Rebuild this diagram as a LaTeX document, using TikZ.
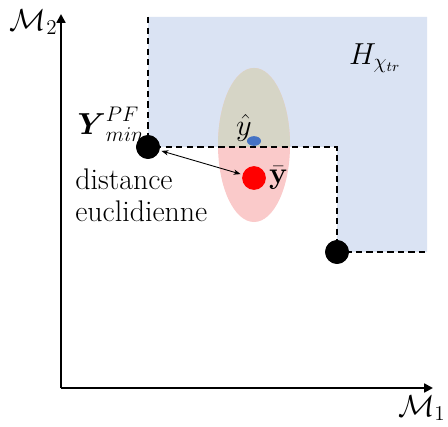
\documentclass[tikz,border=0pt]{standalone}
\usepackage{amsmath,amssymb}
\usepackage{xcolor}
\usetikzlibrary{shapes, arrows.meta, positioning, calc}
\definecolor{regionBlue}{RGB}{218, 227, 243}
\definecolor{ellPink}{RGB}{250, 202, 202}
\definecolor{ellOlive}{RGB}{214, 213, 198}
\definecolor{dotBlue}{RGB}{68, 114, 196}
\definecolor{dotRed}{RGB}{255, 0, 0}

\begin{document}
\begin{tikzpicture}[x=0.02cm, y=0.02cm,
				axis_line/.style  = {line width=1.4pt, -{Triangle[length=5pt, width=5pt]}},
				front_line/.style = {line width=1.1pt, dash pattern=on 3.6pt off 2.4pt},
				pt_black/.style   = {circle, fill=black, inner sep=0pt, minimum size=13.5pt},
				pt_red/.style     = {circle, fill=dotRed, inner sep=0pt, minimum size=13.5pt},
				pt_blue/.style    = {ellipse, fill=dotBlue, inner sep=0pt, minimum width=8pt, minimum height=5.5pt},
				lbl/.style        = {font=\fontsize{17}{18}\selectfont, inner sep=0pt},
				dist_line/.style  = {{Stealth[length=4pt]}-{Stealth[length=4pt]}, line width=0.5pt}
				]
				\useasboundingbox (0,0) rectangle (448,426);
				
				% region dominated by the training set
				\fill[regionBlue] (148,409) -- (427,409) -- (427,174) -- (337,174)
				-- (337,279) -- (148,279) -- cycle;
				
				% uncertainty ellipse
				\fill[ellPink] (254,281) ellipse [x radius=36, y radius=77];
				\begin{scope}
					\clip (148,409) -- (427,409) -- (427,174) -- (337,174)
					-- (337,279) -- (148,279) -- cycle;
					\fill[ellOlive] (254,281) ellipse [x radius=36, y radius=77];
				\end{scope}
				
				% axes
				\coordinate (orig) at (61,38);
				\coordinate (m2_end) at (61,412);
				\coordinate (m1_end) at (433,38);
				\draw[axis_line] (orig) -- (m2_end);
				\draw[axis_line] (orig) -- (m1_end);
				\node[lbl, anchor=east] (m2) at (58,404) {$\mathcal{M}_2$};
				\node[lbl, anchor=east] (m1) at (446,18) {$\mathcal{M}_1$};
				
				% Pareto front
				\node[pt_black] (ymin) at (148,279) {};
				\node[pt_black] (kink) at (337,174) {};
				\coordinate (front_top) at (148,409);
				\coordinate (front_mid) at (337,279);
				\coordinate (front_end) at (427,174);
				\draw[front_line] (front_top) -- (ymin.center) -- (front_mid) -- (kink.center) -- (front_end);
				\node[pt_black] at (ymin) {};
				\node[pt_black] at (kink) {};
				
				% predictions
				\node[pt_blue] (yhat) at (254,285) {};
				\node[lbl, anchor=south east] (yhat_lbl) at (252,284) {$\hat{y}$};
				\node[pt_red] (ybar) at (254,248) {};
				\node[lbl, right=1.5pt of ybar] (ybar_lbl) {$\bar{\mathbf{y}}$};
				
				\draw[dist_line, shorten <=1pt, shorten >=1pt] (ymin) -- (ybar);
				
				\node[lbl, anchor=south] (ymin_lbl) at (111,284) {$\boldsymbol{Y}^{PF}_{min}$};
				\node[lbl, align=left, anchor=north west, font=\fontsize{17}{18.2}\selectfont] (dist_lbl) at (75,258)
				{distance\\euclidienne};
				\node[lbl] (h_lbl) at (375,368) {$H_{\chi_{tr}}$};
			\end{tikzpicture}
\end{document}
